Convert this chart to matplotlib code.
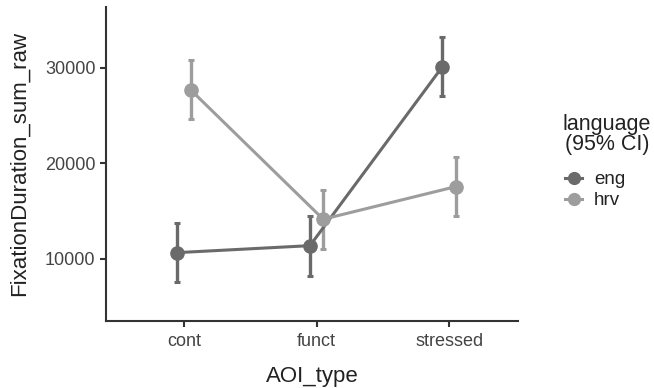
import matplotlib.pyplot as plt
from matplotlib.lines import Line2D

plt.rcParams['font.family'] = ['Liberation Sans', 'DejaVu Sans']

categories = ['cont', 'funct', 'stressed']
languages = ['eng', 'hrv']

# means and 95% CI bounds
eng_mean = [10660, 11390, 30140]
eng_low = [7560, 8220, 27070]
eng_high = [13800, 14530, 33280]
hrv_mean = [27700, 14160, 17570]
hrv_low = [24630, 11050, 14530]
hrv_high = [30840, 17230, 20710]

colors = {'eng': '#6a6a6a', 'hrv': '#9d9d9d'}

W, H = 654, 388
fig = plt.figure(figsize=(W / 100, H / 100), dpi=100)
ax = fig.add_axes([0.162, 0.173, 0.63, 0.809])

series = {
    'eng': (eng_mean, eng_low, eng_high, -0.05),
    'hrv': (hrv_mean, hrv_low, hrv_high, 0.05),
}
for lang in languages:
    mean, low, high, off = series[lang]
    xs = [i + off for i in range(len(categories))]
    err = [[m - l for m, l in zip(mean, low)], [h - m for m, h in zip(mean, high)]]
    ax.errorbar(xs, mean, yerr=err, color=colors[lang], lw=2.2, marker='o',
                markersize=9.5, elinewidth=2.4, capsize=2.5, capthick=2.2, zorder=3)

ax.set_xlim(-0.59, 2.52)
ax.set_ylim(3510, 36390)
ax.set_xticks(range(len(categories)))
ax.set_xticklabels(categories)
ax.set_yticks([10000, 20000, 30000])
ax.set_yticklabels(['10000', '20000', '30000'])

for side in ['top', 'right']:
    ax.spines[side].set_visible(False)
for side in ['left', 'bottom']:
    ax.spines[side].set_color('#333333')
    ax.spines[side].set_linewidth(1.5)
ax.tick_params(axis='both', colors='#333333', width=1.5, length=4,
               labelsize=13, labelcolor='#444444')
ax.tick_params(axis='x', pad=5)

ax.set_xlabel('AOI_type', fontsize=16, color='#222222', labelpad=11)
ax.set_ylabel('FixationDuration_sum_raw', fontsize=16, color='#222222', labelpad=11)

# legend drawn by hand so rows sit where they do in the picture
fig.text(607 / W, 1 - 114 / H, 'language\n(95% CI)', ha='center', va='top',
         fontsize=15.5, color='#222222', linespacing=0.95)
for lang, yy in zip(languages, [178, 199]):
    fy = 1 - yy / H
    fig.add_artist(Line2D([565 / W, 582 / W], [fy, fy], color=colors[lang], lw=2.2))
    fig.add_artist(Line2D([573.5 / W], [fy], color=colors[lang], marker='o',
                          markersize=8.5, lw=0))
    fig.text(594 / W, fy, lang, ha='left', va='center_baseline', fontsize=13.5,
             color='#222222')

fig.savefig('out.png', dpi=100)
